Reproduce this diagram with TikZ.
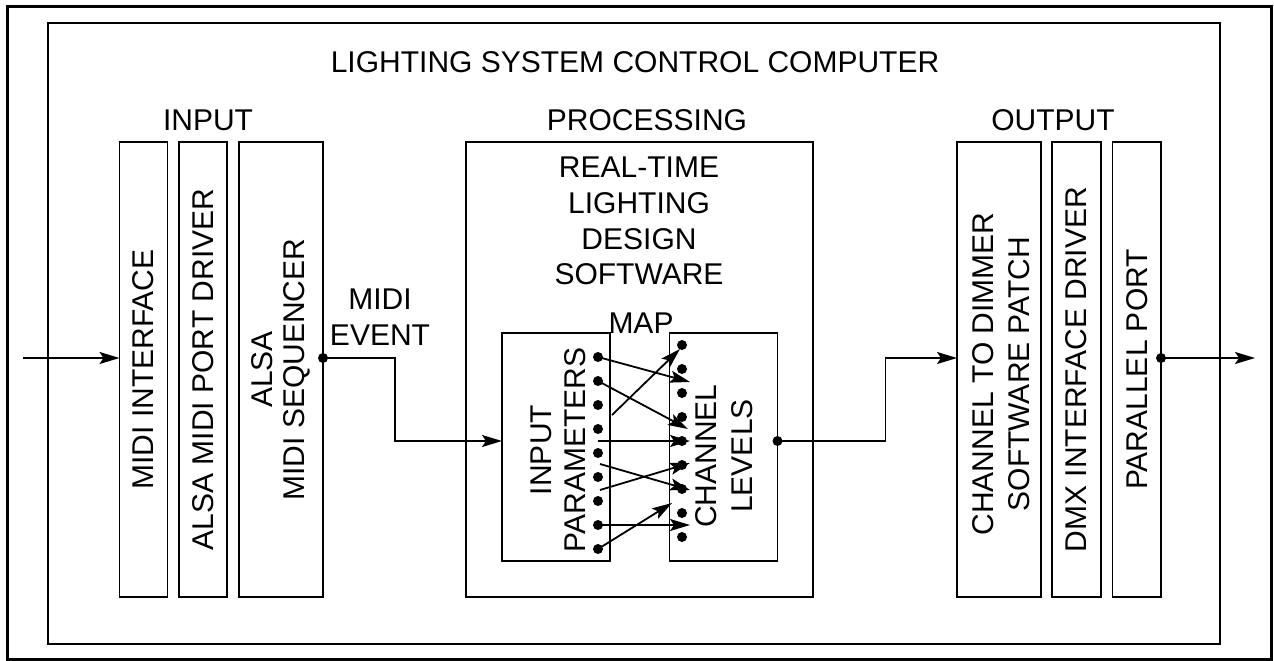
\documentclass[tikz,border=0pt]{standalone}
\usepackage{fontspec}
\setmainfont{Liberation Sans}
\usetikzlibrary{arrows.meta}
\begin{document}
\begin{tikzpicture}[x=1pt,y=-1pt,
  box/.style={draw, line width=1.8pt, inner sep=0pt, outer sep=0pt},
  lbl/.style={font=\fontsize{30}{35}\selectfont, inner sep=0pt, align=center},
  vlbl/.style={font=\fontsize{30}{32}\selectfont, inner sep=0pt, align=center, rotate=90},
  dot/.style={circle, fill, inner sep=0pt, minimum size=10pt},
  conn/.style={line width=1.8pt, -{Stealth[length=20pt,width=12pt,inset=4pt]}},
]
\useasboundingbox (0,0) rectangle (1274,661);
% frames
\draw[line width=3pt] (7,6.5) rectangle (1271.5,659.5);
\node[box, minimum width=1172pt, minimum height=621pt] (computer) at (634,333.5) {};
\node[lbl, anchor=base] (title) at (635,72) {LIGHTING SYSTEM CONTROL COMPUTER};
% section labels
\node[lbl, anchor=base] (inputlbl) at (208,130) {INPUT};
\node[lbl, anchor=base] (proclbl) at (647,130) {PROCESSING};
\node[lbl, anchor=base] (outputlbl) at (1053,130) {OUTPUT};
% input boxes
\node[box, minimum width=48pt, minimum height=455pt] (midiif) at (143.5,369.5) {};
\node[vlbl] at (midiif) {MIDI INTERFACE};
\node[box, minimum width=48pt, minimum height=455pt] (alsadrv) at (203,369.5) {};
\node[vlbl] at (alsadrv) {ALSA MIDI PORT DRIVER};
\node[box, minimum width=84pt, minimum height=455pt] (alsaseq) at (281,369.5) {};
\node[vlbl] at (alsaseq) {ALSA\\MIDI SEQUENCER};
% processing
\node[box, minimum width=347pt, minimum height=455pt] (proc) at (639.5,369.5) {};
\node[lbl, font=\fontsize{30}{35.7}\selectfont, anchor=north] (proctxt) at (639,157)
  {REAL-TIME\\LIGHTING\\DESIGN\\SOFTWARE};
% map
\node[box, minimum width=108pt, minimum height=228pt] (inparams) at (556,447) {};
\node[vlbl, font=\fontsize{30}{34}\selectfont] at (558,450) {INPUT\\PARAMETERS};
\node[box, minimum width=108pt, minimum height=228pt] (chlev) at (723.5,447) {};
\node[vlbl, font=\fontsize{30}{36}\selectfont] at (724,456) {CHANNEL\\LEVELS};
\node[lbl, anchor=base] (maplbl) at (641,333) {MAP};
% output boxes
\node[box, minimum width=84pt, minimum height=455pt] (chdim) at (999,369.5) {};
\node[vlbl, font=\fontsize{30}{36}\selectfont] at (1001,374) {CHANNEL TO DIMMER\\SOFTWARE PATCH};
\node[box, minimum width=48.5pt, minimum height=455pt] (dmx) at (1076.5,369.5) {};
\node[vlbl] at (dmx) {DMX INTERFACE DRIVER};
\node[box, minimum width=48.5pt, minimum height=455pt] (ppt) at (1136.75,369.5) {};
\node[vlbl] at (ppt) {PARALLEL PORT};
% MIDI EVENT label
\node[lbl, font=\fontsize{30}{36}\selectfont, anchor=north] (midievent) at (380,289) {MIDI\\EVENT};
% dots
\node[dot] (seqout) at (323,358) {};
\node[dot] (chout) at (777.5,441) {};
\node[dot] (pptout) at (1161,358) {};
\foreach \i in {1,...,9} {
  \node[dot] (p\i) at (598,{357+24*(\i-1)}) {};
  \node[dot] (c\i) at (682,{345+24*(\i-1)}) {};
}
% free ends
\coordinate (in) at (23,358);
\coordinate (out) at (1255,358);
\coordinate (ta) at (690,382);
\coordinate (tb) at (688,429);
\coordinate (sc) at (612,415);
\coordinate (tc) at (680,349);
\coordinate (sd) at (598,441);
\coordinate (td) at (690,441);
\coordinate (se) at (600,464);
\coordinate (te) at (690,490);
\coordinate (sf) at (600,490);
\coordinate (tf) at (690,463);
\coordinate (tg) at (690,525);
\coordinate (th) at (672,503);
% main connectors
\draw[conn] (in) -- (midiif.west |- in);
\draw[conn] (seqout.center) -- ++(72,0) |- (inparams.west |- chout);
\draw[conn] (chout.center) -- ++(108,0) |- (chdim.west |- pptout);
\draw[conn] (pptout.center) -- (out);
% map connectors
\draw[conn] (p1.center) -- (ta);
\draw[conn] (p2.center) -- (tb);
\draw[conn] (sc) -- (tc);
\draw[conn] (sd) -- (td);
\draw[conn] (se) -- (te);
\draw[conn] (sf) -- (tf);
\draw[conn] (p8.center) -- (tg);
\draw[conn] (p9.center) -- (th);
\end{tikzpicture}
\end{document}
